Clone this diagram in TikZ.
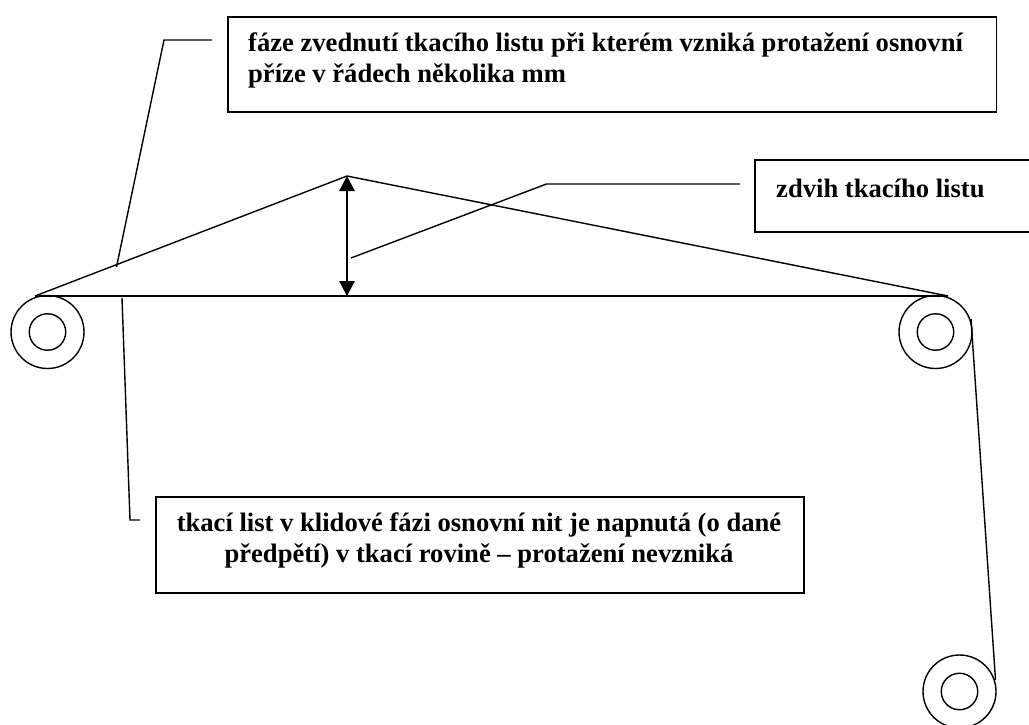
\documentclass[tikz,border=0pt]{standalone}
\usepackage{fontspec}
\setmainfont{Liberation Serif}
\usetikzlibrary{arrows.meta}
\tikzset{
  x=1pt,y=-1pt,
  thin line/.style={line width=1.4pt,black},
  box/.style={draw=black,line width=1.8pt,rectangle,inner sep=0pt,anchor=north west},
  boxtext/.style={inner sep=0pt,font=\fontsize{26.6}{31}\selectfont\bfseries},
  rollout/.style={circle,draw=black,line width=1.4pt,inner sep=0pt,minimum size=73pt},
  rollin/.style={circle,draw=black,line width=1.4pt,inner sep=0pt,minimum size=36.5pt},
  dim/.style={line width=1.4pt,black,{Triangle[length=15pt,width=15.5pt]}-{Triangle[length=15pt,width=15.5pt]}}
}
\begin{document}
\begin{tikzpicture}
\useasboundingbox (0,0) rectangle (1029,725);
% boxes
\node[box,minimum width=768.5pt,minimum height=95.5pt] (b1) at (227,16) {};
\node[box,minimum width=648pt,minimum height=96pt] (b3) at (155,496) {};
\coordinate (b2a) at (1029,160);
\coordinate (b2b) at (755,160);
\coordinate (b2c) at (755,232);
\coordinate (b2d) at (1029,232);
\draw[line width=1.8pt] (b2a) -- (b2b) -- (b2c) -- (b2d);
% box texts
\node[boxtext,anchor=base west] (t1a) at (248,52) {fáze zvednutí tkacího listu při kterém vzniká protažení osnovní};
\node[boxtext,anchor=base west] (t1b) at (248,83) {příze v řádech několika mm};
\node[boxtext,anchor=base west] (t2) at (776,197) {zdvih tkacího listu};
\node[boxtext,anchor=base] (t3a) at (479,531) {tkací list v klidové fázi osnovní nit je napnutá (o dané};
\node[boxtext,anchor=base] (t3b) at (479,562) {předpětí) v tkací rovině – protažení nevzniká};
% rollers
\node[rollout] (r1) at (47.5,332) {};
\node[rollin] (r1i) at (47.5,332) {};
\node[rollout] (r2) at (935.5,332) {};
\node[rollin] (r2i) at (935.5,332) {};
\node[rollout] (r3) at (959.5,691.5) {};
\node[rollin] (r3i) at (959.5,691.5) {};
% thread
\coordinate (pl) at (35,296);
\coordinate (pr) at (948,296);
\coordinate (apex) at (347,176);
\coordinate (base) at (347,296);
\draw[thin line] (pl) -- (pr);
\draw[thin line] (pl) -- (apex) -- (pr);
\draw[dim] (apex) -- (base);
% leaders
\coordinate (l1a) at (212,40);
\coordinate (l1b) at (164,40);
\coordinate (l1c) at (116.5,267);
\draw[thin line] (l1a) -- (l1b) -- (l1c);
\coordinate (l2a) at (740,184);
\coordinate (l2b) at (546.5,184);
\coordinate (l2c) at (351,258);
\draw[thin line] (l2a) -- (l2b) -- (l2c);
\coordinate (l3a) at (122,298);
\coordinate (l3b) at (130,520);
\coordinate (l3c) at (140,520);
\draw[thin line] (l3a) -- (l3b) -- (l3c);
\coordinate (l4a) at (971,319);
\coordinate (l4b) at (995.5,680);
\draw[thin line] (l4a) -- (l4b);
\end{tikzpicture}
\end{document}
